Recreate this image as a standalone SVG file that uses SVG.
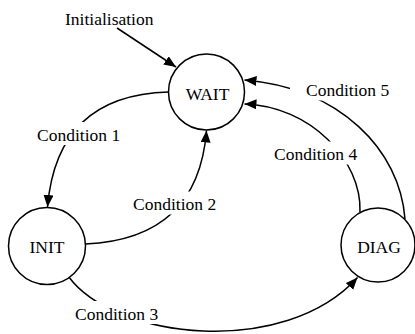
<svg xmlns="http://www.w3.org/2000/svg" width="415" height="334" viewBox="0 0 415 334" font-family="'Liberation Serif', 'Times New Roman', Times, serif">
  <style>
    .state { fill: #ffffff; stroke: #000000; stroke-width: 1.5; }
    .edge { fill: none; stroke: #000000; stroke-width: 1.5; marker-end: url(#arrow); }
    text { font-family: 'Liberation Serif', 'Times New Roman', Times, serif; font-size: 17.5px; fill: #000000; }
    .mid { text-anchor: middle; }
    .bg { fill: #ffffff; stroke: none; }
  </style>
  <defs>
    <marker id="arrow" markerUnits="userSpaceOnUse" markerWidth="13" markerHeight="11" refX="12" refY="5" orient="auto">
      <path d="M0,0 L12,5 L0,10 Z" fill="#000000"/>
    </marker>
  </defs>

  <!-- transitions -->
  <g id="connectors">
    <path id="e-init" class="edge" d="M117,28 L176,67"/>
    <path id="e-c1" class="edge" d="M168.5,92 Q57,95 47.5,207"/>
    <path id="e-c2" class="edge" d="M85.5,244 Q198,239 206.5,130.5"/>
    <path id="e-c3" class="edge" d="M68.5,276.5 C115,340 285,358 357.5,277.5"/>
    <path id="e-c4" class="edge" d="M360,212 C362,160 310,106 244.5,104"/>
    <path id="e-c5" class="edge" d="M405,219 C400,150 340,88 244.5,80"/>

    <!-- transition labels on a white ground that breaks the lines -->
    <g id="labels">
      <rect class="bg" x="34" y="122" width="89" height="23"/>
      <text x="37" y="141">Condition 1</text>
      <rect class="bg" x="130" y="191.5" width="90" height="23"/>
      <text x="133" y="210">Condition 2</text>
      <rect class="bg" x="72" y="301" width="90" height="23"/>
      <text x="75" y="320">Condition 3</text>
      <rect class="bg" x="271" y="141.5" width="90" height="23"/>
      <text x="274" y="160">Condition 4</text>
      <rect class="bg" x="290" y="77.5" width="102" height="23"/>
      <text x="306" y="96">Condition 5</text>
      <text x="65" y="25">Initialisation</text>
    </g>
  </g>

  <!-- states -->
  <g id="WAIT">
    <circle class="state" cx="206.5" cy="92" r="38"/>
    <text class="mid" x="207.5" y="100">WAIT</text>
  </g>
  <g id="INIT">
    <circle class="state" cx="47" cy="246" r="38.5"/>
    <text class="mid" x="47" y="253">INIT</text>
  </g>
  <g id="DIAG">
    <circle class="state" cx="378" cy="245" r="37"/>
    <text class="mid" x="379" y="253">DIAG</text>
  </g>
</svg>
